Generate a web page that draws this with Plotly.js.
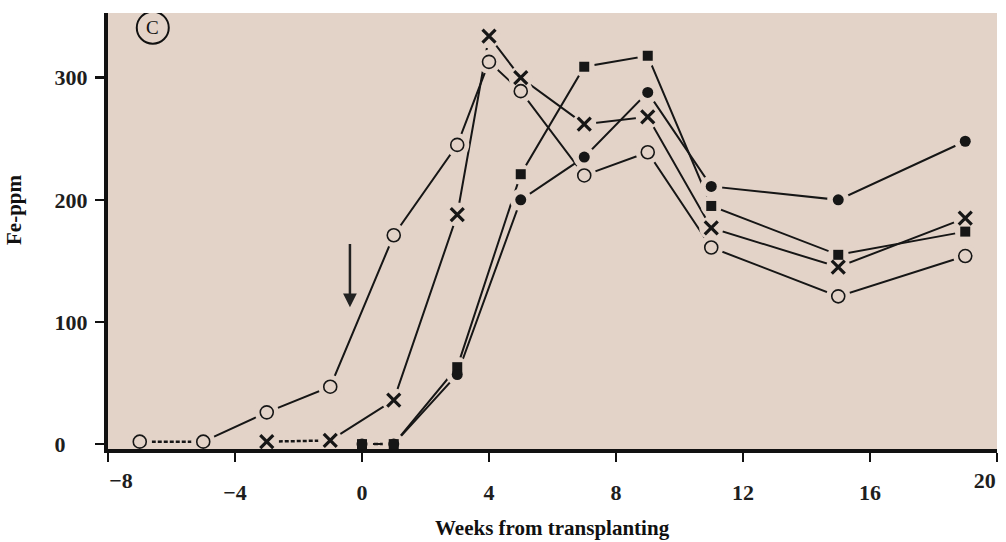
<!DOCTYPE html>
<html>
<head>
<meta charset="utf-8">
<script src="https://cdn.plot.ly/plotly-3.0.1.min.js"></script>
<style>html,body{margin:0;padding:0;background:#fff;}#chart{width:1006px;height:542px;}</style>
</head>
<body>
<div id="chart"></div>
<script>
// Weeks from transplanting
const weeksOpen   = [-7, -5, -3, -1, 1, 3, 4, 5, 7, 9, 11, 15, 19];
const feOpen      = [2, 2, 26, 47, 171, 245, 313, 289, 220, 239, 161, 121, 154];

const weeksCross  = [-3, -1, 1, 3, 4, 5, 7, 9, 11, 15, 19];
const feCross     = [2, 3, 36, 188, 334, 300, 262, 268, 177, 145, 185];

const weeksSquare = [0, 1, 3, 5, 7, 9, 11, 15, 19];
const feSquare    = [0, 0, 63, 221, 309, 318, 195, 155, 174];

const weeksDot    = [0, 1, 3, 5, 7, 9, 11, 15, 19];
const feDot       = [0, 0, 57, 200, 235, 288, 211, 200, 248];

const NB = '\u00a0';
const xTickVals  = [-8, -4, 0, 4, 8, 12, 16, 20];
const xTickText  = ['', '−4', '0', '4', '8', '12', '16', ''];
const xFirstVal  = [-8];
const xFirstText = ['−8'];
const xLastVal   = [20];
const xLastText  = ['20'];
const yTickVals  = [0, 100, 200, 300];
const yTickText  = ['0' + NB.repeat(4), '100', '200', '300'];

const BG = '#e3d3c8';
const INK = '#161616';

// dashN: number of leading points joined by a dashed (near-zero) segment
const series = [
  {x: weeksOpen,   y: feOpen,   dashN: 2, kind: 'open',   size: 13},
  {x: weeksCross,  y: feCross,  dashN: 2, kind: 'cross',  size: 13},
  {x: weeksSquare, y: feSquare, dashN: 2, kind: 'square', size: 10},
  {x: weeksDot,    y: feDot,    dashN: 0, kind: 'dot',    size: 11}
];

const traces = [];
series.forEach(s => {
  if (s.dashN >= 2) {
    traces.push({x: s.x.slice(0, s.dashN), y: s.y.slice(0, s.dashN), mode: 'lines',
      line: {color: INK, width: 2.5, dash: '4px,2px'}, hoverinfo: 'skip', showlegend: false});
  }
  const start = Math.max(s.dashN - 1, 0);
  traces.push({x: s.x.slice(start), y: s.y.slice(start), mode: 'lines',
    line: {color: INK, width: 2}, hoverinfo: 'skip', showlegend: false});
});
// gaps in the lines around each marker
series.forEach(s => {
  traces.push({x: s.x, y: s.y, mode: 'markers',
    marker: {symbol: 'circle', size: s.size + 11, color: BG, line: {width: 0}},
    hoverinfo: 'skip', showlegend: false});
});
// markers
series.forEach(s => {
  let marker;
  if (s.kind === 'open') {
    marker = {symbol: 'circle', size: s.size, color: BG, line: {color: INK, width: 1.6}};
  } else if (s.kind === 'cross') {
    marker = {symbol: 'x-thin-open', size: s.size, color: INK, line: {color: INK, width: 3.2}};
  } else if (s.kind === 'square') {
    marker = {symbol: 'square', size: s.size, color: INK, line: {width: 0}};
  } else {
    marker = {symbol: 'circle', size: s.size, color: INK, line: {width: 0}};
  }
  traces.push({x: s.x, y: s.y, mode: 'markers', marker: marker, showlegend: false});
});
// empty traces so that the overlay axes carrying the end tick labels are drawn
traces.push({x: [], y: [], xaxis: 'x2', yaxis: 'y', mode: 'markers', showlegend: false, hoverinfo: 'skip'});
traces.push({x: [], y: [], xaxis: 'x3', yaxis: 'y', mode: 'markers', showlegend: false, hoverinfo: 'skip'});

const SERIF = 'Liberation Serif, Times New Roman, serif';
const tickFont = {family: SERIF, size: 22, color: '#1e1e1e', weight: 'bold'};
const titleFont = {family: SERIF, size: 21, color: '#111', weight: 'bold'};

const endAxis = (vals, text, pos) => ({
  range: [-8, 20], overlaying: 'x', anchor: 'y', side: 'bottom',
  tickvals: vals, ticktext: text, ticklabelposition: pos,
  showgrid: false, zeroline: false, showline: false,
  ticks: 'outside', ticklen: 9, tickwidth: 2.5, tickcolor: 'rgba(0,0,0,0)',
  tickfont: tickFont, ticklabelstandoff: 12
});

const layout = {
  width: 1006, height: 542,
  margin: {l: 108, r: 9, t: 13, b: 93},
  paper_bgcolor: '#ffffff',
  plot_bgcolor: BG,
  showlegend: false,
  xaxis: {
    range: [-8, 20], tickvals: xTickVals, ticktext: xTickText,
    showgrid: false, zeroline: false,
    showline: true, linecolor: '#111', linewidth: 4,
    ticks: 'outside', ticklen: 9, tickwidth: 2.5, tickcolor: '#111',
    tickfont: tickFont, ticklabelstandoff: 12
  },
  xaxis2: endAxis(xFirstVal, xFirstText, 'outside right'),
  xaxis3: endAxis(xLastVal, xLastText, 'outside left'),
  yaxis: {
    range: [-4, 353], tickvals: yTickVals, ticktext: yTickText,
    showgrid: false, zeroline: false,
    showline: true, linecolor: '#111', linewidth: 4,
    ticks: 'outside', ticklen: 9, tickwidth: 2.5, tickcolor: '#111',
    tickfont: tickFont, ticklabelstandoff: 3
  },
  shapes: [
    {type: 'circle', xref: 'x', yref: 'y', xsizemode: 'pixel', ysizemode: 'pixel',
     xanchor: -6.59, yanchor: 341, x0: -16, x1: 16, y0: -16, y1: 16,
     line: {color: '#111', width: 2}, fillcolor: 'rgba(0,0,0,0)'}
  ],
  annotations: [
    {x: -6.59, y: 341, xref: 'x', yref: 'y', text: 'C', showarrow: false,
     font: {family: SERIF, size: 19, color: '#111'}},
    {x: -0.38, y: 112, ax: -0.38, ay: 165, xref: 'x', yref: 'y', axref: 'x', ayref: 'y',
     text: '', showarrow: true, arrowhead: 2, arrowsize: 1.1, arrowwidth: 2.5, arrowcolor: '#222'},
    {x: 0.5, y: -0.181, xref: 'paper', yref: 'paper', xanchor: 'center', yanchor: 'middle',
     text: 'Weeks from transplanting', showarrow: false, font: titleFont},
    {x: -0.106, y: 0.55, xref: 'paper', yref: 'paper', xanchor: 'center', yanchor: 'middle',
     text: 'Fe-ppm', textangle: -90, showarrow: false, font: titleFont}
  ]
};

Plotly.newPlot('chart', traces, layout, {displayModeBar: false, staticPlot: true});
</script>
</body>
</html>
